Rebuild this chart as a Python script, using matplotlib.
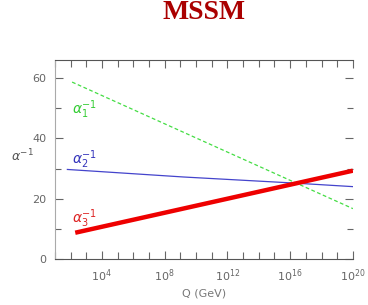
import math
import matplotlib
matplotlib.use("Agg")
import matplotlib.pyplot as plt
from matplotlib.ticker import LogLocator, FixedLocator, FuncFormatter, NullFormatter

# inverse couplings vs log10(Q/GeV)
logq_1 = [2.1, 20.0]
alpha1_inv = [58.7, 16.7]

logq_2 = [1.8, 9.2, 16.2, 20.0]
alpha2_inv = [29.7, 27.2, 25.2, 24.0]

logq_3 = [2.3, 20.0]
alpha3_inv = [8.7, 29.3]

xticks_major = [1e4, 1e8, 1e12, 1e16, 1e20]

fig = plt.figure(figsize=(3.68, 3.05), dpi=100)
ax = fig.add_axes([0.149, 0.151, 0.810, 0.652])

ax.plot([10 ** v for v in logq_1], alpha1_inv, color="#44dd44", lw=0.9, ls=(0, (3, 2)))
ax.plot([10 ** v for v in logq_2], alpha2_inv, color="#4444cc", lw=0.9)
ax.plot([10 ** v for v in logq_3], alpha3_inv, color="#ee0000", lw=3.2, solid_capstyle="butt")

ax.set_xscale("log")
ax.set_xlim(10, 1e20)
ax.set_ylim(0, 66)

ax.xaxis.set_major_locator(FixedLocator(xticks_major))
ax.xaxis.set_minor_locator(LogLocator(base=10, subs=[1.0], numticks=40))
ax.xaxis.set_major_formatter(FuncFormatter(lambda v, p: r"$10^{%d}$" % round(math.log10(v))))
ax.xaxis.set_minor_formatter(NullFormatter())
ax.set_yticks([0, 20, 40, 60])
ax.set_yticks([10, 30, 50], minor=True)

ax.tick_params(which="both", direction="in", top=True, right=True, labelsize=8,
               labelcolor="#666666", color="#666666", width=0.8, pad=6)
ax.tick_params(which="major", length=6)
ax.tick_params(which="minor", length=4)
ax.tick_params(axis="x", which="minor", length=5)

ax.spines["right"].set_visible(False)
ax.spines["left"].set_color("#aaaaaa")
ax.spines["top"].set_color("#555555")
ax.spines["bottom"].set_color("#555555")

ax.text(10 ** 2.08, 48, r"$\alpha_1^{-1}$", color="#33cc33", fontsize=10)
ax.text(10 ** 2.08, 31.5, r"$\alpha_2^{-1}$", color="#3333bb", fontsize=10)
ax.text(10 ** 2.08, 12, r"$\alpha_3^{-1}$", color="#dd2222", fontsize=10)

ax.set_xlabel("Q (GeV)", fontsize=8, color="#777777", labelpad=3)
fig.text(0.03, 0.47, r"$\alpha^{-1}$", fontsize=9, color="#555555")

fig.text(0.555, 0.958, "MSSM", fontsize=20, fontweight="bold", family="Liberation Serif",
         color="#aa0000", ha="center", va="center")

fig.savefig("out.png", dpi=100)
